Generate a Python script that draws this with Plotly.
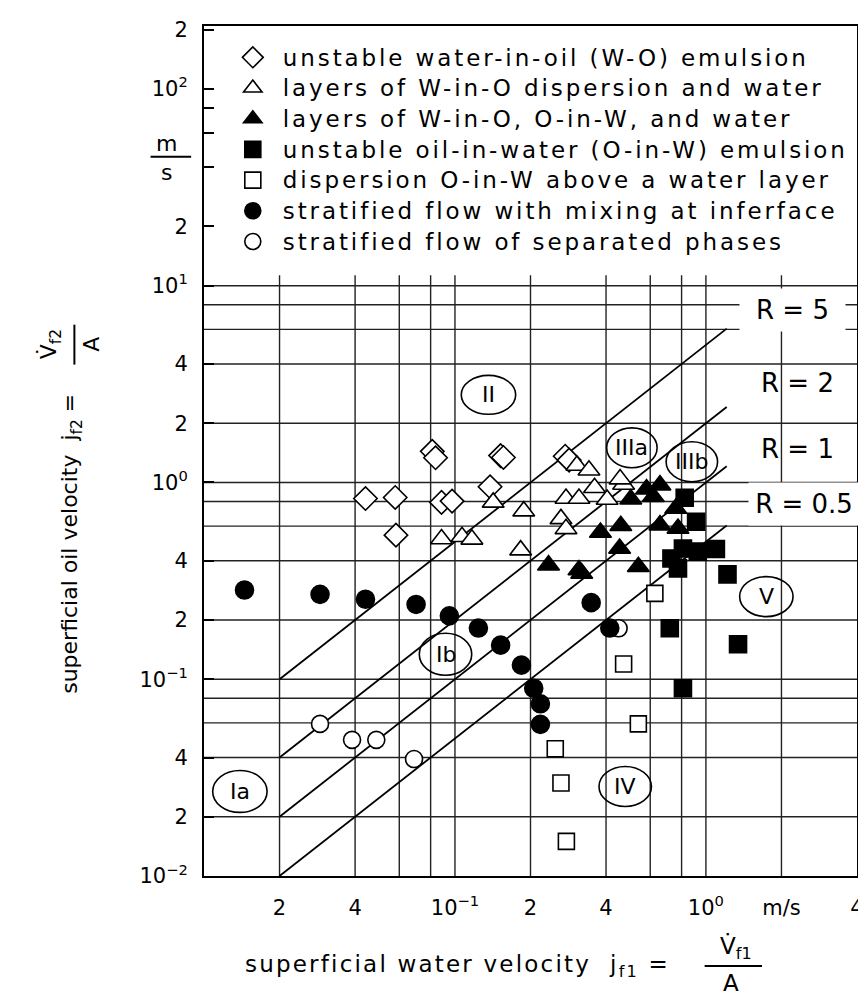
import math
import plotly.graph_objects as go

# ---------------- data ----------------
# unstable water-in-oil (W-O) emulsion  (open diamonds)
wo_x = [0.0812, 0.0837, 0.152, 0.156, 0.044, 0.0578, 0.0884, 0.0974, 0.138, 0.0582, 0.275, 0.285]
wo_y = [1.44, 1.335, 1.37, 1.34, 0.829, 0.839, 0.792, 0.804, 0.951, 0.540, 1.36, 1.30]
# layers of W-in-O dispersion and water (open triangles)
wd_x = [0.142, 0.188, 0.0884, 0.1067, 0.1168, 0.1827, 0.360, 0.277, 0.312, 0.404, 0.2645, 0.277, 0.470, 0.455, 0.306, 0.342]
wd_y = [0.792, 0.715, 0.516, 0.530, 0.514, 0.453, 0.940, 0.829, 0.829, 0.820, 0.653, 0.581, 0.977, 1.04, 1.22, 1.154]
# layers of W-in-O, O-in-W and water (filled triangles)
wow_x = [0.380, 0.236, 0.312, 0.320, 0.656, 0.580, 0.502, 0.617, 0.758, 0.458, 0.656, 0.774, 0.453, 0.538]
wow_y = [0.557, 0.380, 0.359, 0.345, 0.969, 0.925, 0.823, 0.846, 0.738, 0.603, 0.607, 0.584, 0.462, 0.373]
# unstable oil-in-water (O-in-W) emulsion (filled squares)
ow_x = [0.823, 0.914, 0.810, 0.928, 1.096, 0.729, 0.774, 1.219, 0.718, 1.343, 0.810]
ow_y = [0.836, 0.632, 0.462, 0.445, 0.459, 0.411, 0.366, 0.341, 0.1815, 0.1506, 0.090]
# dispersion O-in-W above a water layer (open squares)
ds_x = [0.626, 0.470, 0.538, 0.251, 0.2645, 0.278]
ds_y = [0.273, 0.1196, 0.0593, 0.0443, 0.0297, 0.0150]
# stratified flow with mixing at interface (filled circles)
sm_x = [0.0145, 0.029, 0.044, 0.070, 0.095, 0.124, 0.152, 0.184, 0.206, 0.219, 0.219, 0.349, 0.414]
sm_y = [0.284, 0.270, 0.255, 0.240, 0.210, 0.182, 0.149, 0.118, 0.090, 0.075, 0.059, 0.245, 0.182]
# stratified flow of separated phases (open circles)
ss_x = [0.029, 0.0389, 0.0486, 0.0687, 0.449]
ss_y = [0.0593, 0.0492, 0.0492, 0.0393, 0.1815]

# constant-ratio lines  j_f2 = R * j_f1
R_values = [5, 2, 1, 0.5]
R_labels = ["R = 5", "R = 2", "R = 1", "R = 0.5"]
R_line_jf1 = [0.02, 1.21]

# flow regime labels
region_names = ["II", "IIIa", "IIIb", "Ib", "Ia", "IV", "V"]
region_x = [0.136, 0.507, 0.879, 0.0917, 0.0139, 0.477, 1.741]
region_y = [2.79, 1.50, 1.274, 0.134, 0.0269, 0.0285, 0.263]

# grid / ticks
x_grid = [0.02, 0.04, 0.06, 0.08, 0.1, 0.2, 0.4, 0.6, 0.8, 1, 2]
y_grid = [0.02, 0.04, 0.06, 0.08, 0.1, 0.2, 0.4, 0.6, 0.8, 1, 2, 4, 6, 8, 10]
x_tickvals = [0.02, 0.04, 0.1, 0.2, 0.4, 1, 2, 4]
x_ticktext = ["2", "4", "10<sup>−1</sup>", "2", "4", "10<sup>0</sup>", "m/s", "4"]
y_tickvals = [0.01, 0.02, 0.04, 0.1, 0.2, 0.4, 1, 2, 4, 10, 20, 100, 200]
y_ticktext = ["10<sup>−2</sup>", "2", "4", "10<sup>−1</sup>", "2", "4", "10<sup>0</sup>", "2", "4",
              "10<sup>1</sup>", "2", "10<sup>2</sup>", "2"]
y_minor_ticks = [40, 60, 80]

# ---------------- layout helpers ----------------
FONT = "DejaVu Sans"
W, H = 866, 1000
ML, MR, MT, MB = 196, 10, 17, 132
PW, PH = W - ML - MR, H - MT - MB
X_RANGE = [-2, math.log10(4)]
Y_RANGE = [-2, 2.32]
DEC_X = PW / (X_RANGE[1] - X_RANGE[0])   # pixels per decade
DEC_Y = PH / (Y_RANGE[1] - Y_RANGE[0])


def px(xp):
    return (xp - ML) / PW


def py(yp):
    return (H - MB - yp) / PH


def spaced(s, size=23, ls=2.9):
    return f'<span style="font-size:{size}px;letter-spacing:{ls}px">{s}</span>'


fig = go.Figure()

shapes = []
for v in y_grid:
    shapes.append(dict(type="line", xref="x", yref="y", x0=0.01, x1=4, y0=v, y1=v,
                       line=dict(color="#222", width=1.4), layer="below"))
for v in x_grid:
    shapes.append(dict(type="line", xref="x", yref="y", x0=v, x1=v, y0=0.01, y1=11.3,
                       line=dict(color="#222", width=1.4), layer="below"))

ann = []

# region ellipses (size in pixels converted through the log scale) + labels
ell_w = [55, 51, 52, 53, 55, 53, 54]
ell_h = [39, 40, 40, 42, 42, 40, 40]
for name, xc, yc, ew, eh in zip(region_names, region_x, region_y, ell_w, ell_h):
    fx = 10 ** (ew / 2 / DEC_X)
    fy = 10 ** (eh / 2 / DEC_Y)
    shapes.append(dict(type="circle", xref="x", yref="y",
                       x0=xc / fx, x1=xc * fx, y0=yc / fy, y1=yc * fy,
                       line=dict(color="black", width=1.6), fillcolor="rgba(0,0,0,0)"))
    ann.append(dict(text=name, x=math.log10(xc), y=math.log10(yc), xref="x", yref="y",
                    showarrow=False, xanchor="center", yanchor="middle",
                    font=dict(family=FONT, size=22, color="black")))

# fraction bars (units / axis titles)
shapes.append(dict(type="line", xref="paper", yref="paper", x0=px(142), x1=px(183), y0=py(148), y1=py(148),
                   line=dict(color="black", width=2)))
shapes.append(dict(type="line", xref="paper", yref="paper", x0=px(65), x1=px(65), y0=py(316), y1=py(356),
                   line=dict(color="black", width=2)))
shapes.append(dict(type="line", xref="paper", yref="paper", x0=px(702), x1=px(760), y0=py(958), y1=py(958),
                   line=dict(color="black", width=2)))

# R lines
for Rv in R_values:
    fig.add_trace(go.Scatter(x=R_line_jf1, y=[Rv * v for v in R_line_jf1], mode="lines",
                             line=dict(color="black", width=1.8), showlegend=False, hoverinfo="skip"))

# data traces (drawing order), legendrank gives the legend order
series = [
    ("unstable water-in-oil (W-O) emulsion", wo_x, wo_y, "diamond", "white", 18, 1),
    ("layers of W-in-O dispersion and water", wd_x, wd_y, "triangle-up", "white", 19, 2),
    ("layers of W-in-O, O-in-W, and water", wow_x, wow_y, "triangle-up", "black", 19, 3),
    ("unstable oil-in-water (O-in-W) emulsion", ow_x, ow_y, "square", "black", 17, 4),
    ("dispersion O-in-W above a water layer", ds_x, ds_y, "square", "white", 16, 5),
    ("stratified flow of separated phases", ss_x, ss_y, "circle", "white", 17, 7),
    ("stratified flow with mixing at inferface", sm_x, sm_y, "circle", "black", 18, 6),
]
for name, xs, ys, sym, col, size, rank in series:
    fig.add_trace(go.Scatter(x=xs, y=ys, mode="markers", name=spaced(name), legendrank=rank,
                             marker=dict(symbol=sym, size=size, color=col,
                                         line=dict(color="black", width=1.6))))


def add_text(text, xp, yp, size, angle=0, xanchor="center", yanchor="middle", **kw):
    ann.append(dict(text=text, x=px(xp), y=py(yp), xref="paper", yref="paper", showarrow=False,
                    font=dict(size=size, family=FONT, color="black"), textangle=angle,
                    xanchor=xanchor, yanchor=yanchor, **kw))


# R labels
add_text(R_labels[0], 791, 301, 26, width=103, height=40, bgcolor="white")
add_text(R_labels[1], 757, 374, 26, xanchor="left")
add_text(R_labels[2], 757, 440, 26, xanchor="left")
add_text(R_labels[3], 802, 496, 26, width=108, height=40, bgcolor="white")

# y unit  m/s
add_text("m", 158, 135, 22)
add_text("s", 158, 164, 22)

# y axis title
add_text("superficial oil velocity  j<sub>f2</sub> =", 62, 535, 22, angle=-90)
add_text("V\u0307<sub>f2</sub>", 41, 336, 22, angle=-90)
add_text("A", 82, 336, 22, angle=-90)

# x axis title
add_text(spaced("superficial water velocity  j<sub>f1</sub> =", 23, 2.2), 452, 958, 23)
add_text("V\u0307<sub>f1</sub>", 734, 940, 23)
add_text("A", 729, 975, 23)

fig.update_layout(
    width=W, height=H,
    margin=dict(l=ML, r=MR, t=MT, b=MB),
    paper_bgcolor="white", plot_bgcolor="white",
    font=dict(family=FONT, color="black"),
    shapes=shapes, annotations=ann,
    legend=dict(x=px(215), y=py(28), xanchor="left", yanchor="top",
                font=dict(size=21.3, family=FONT, color="black"),
                itemwidth=50, bgcolor="rgba(0,0,0,0)", borderwidth=0, tracegroupgap=0),
    xaxis=dict(type="log", range=X_RANGE, showgrid=False, zeroline=False,
               showline=True, mirror=True, linecolor="black", linewidth=2,
               ticks="", tickvals=x_tickvals, ticktext=x_ticktext,
               tickfont=dict(size=21, family=FONT, color="black"), ticklabelstandoff=12),
    yaxis=dict(type="log", range=Y_RANGE, showgrid=False, zeroline=False,
               showline=True, mirror=True, linecolor="black", linewidth=2,
               ticks="inside", ticklen=10, tickwidth=1.5, tickcolor="black",
               tickvals=y_tickvals, ticktext=y_ticktext,
               minor=dict(tickmode="array", tickvals=y_minor_ticks, ticks="inside",
                          ticklen=10, tickwidth=1.5, tickcolor="black", showgrid=False),
               tickfont=dict(size=21, family=FONT, color="black"), ticklabelstandoff=10),
    showlegend=True,
)

fig.write_html("out.html")
